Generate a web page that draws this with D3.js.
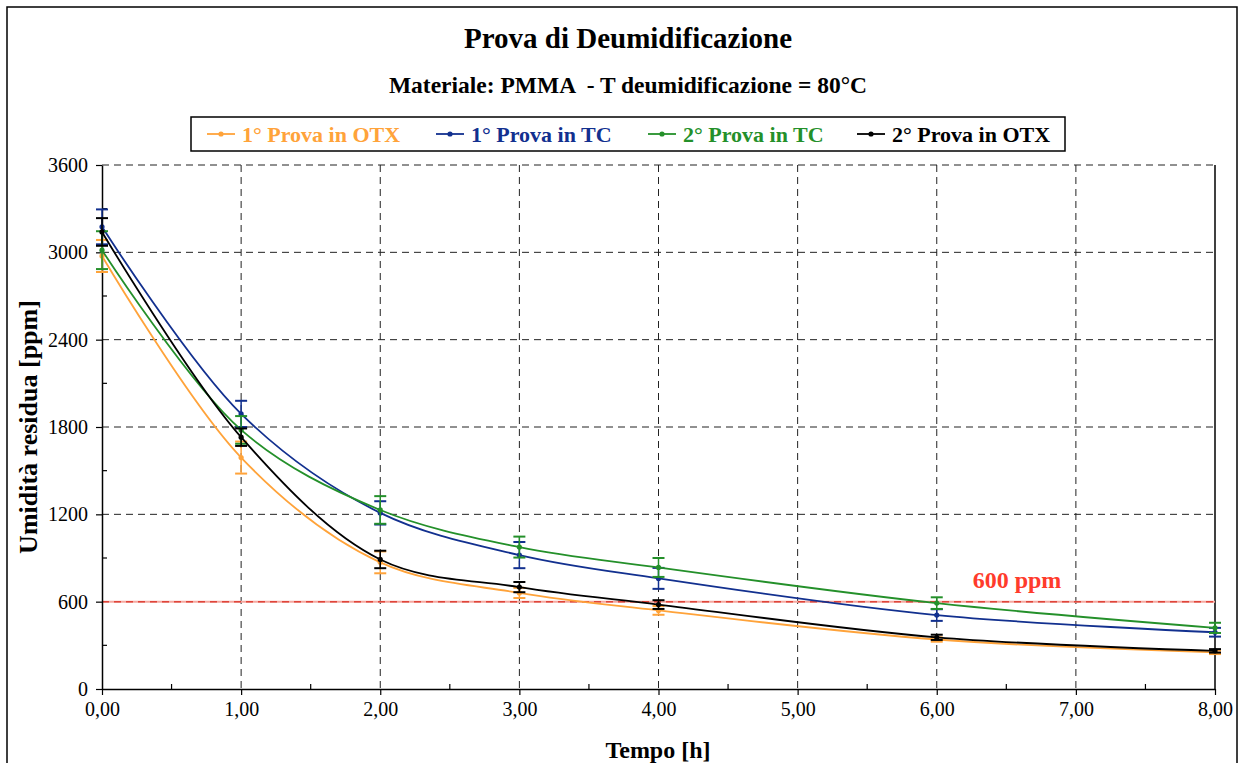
<!DOCTYPE html>
<html>
<head>
<meta charset="utf-8">
<script src="https://cdn.jsdelivr.net/npm/d3@7"></script>
<style>
  html, body { margin: 0; padding: 0; background: #fff; }
  svg { display: block; font-family: "Liberation Serif", "Times New Roman", serif; }
  svg text { font-family: "Liberation Serif", "Times New Roman", serif; }
</style>
</head>
<body>
<svg id="chart" width="1245" height="763"></svg>
<script>
// Drying time [h]
const hours = [0, 1, 2, 3, 4, 6, 8];

// Residual moisture [ppm] and error bar half-widths for each run
const otx1 = [2975, 1590, 870, 660, 540, 340, 252];
const otx1Err = [110, 110, 75, 35, 30, 15, 12];
const tc1 = [3175, 1890, 1210, 920, 760, 508, 390];
const tc1Err = [120, 90, 80, 90, 72, 40, 30];
const tc2 = [3015, 1780, 1230, 975, 835, 590, 420];
const tc2Err = [130, 95, 95, 72, 65, 40, 35];
const otx2 = [3140, 1730, 890, 700, 580, 355, 262];
const otx2Err = [95, 60, 60, 35, 30, 18, 12];

const seriesNames = ["1° Prova in OTX", "1° Prova in TC", "2° Prova in TC", "2° Prova in OTX"];
const seriesColors = ["#ffa33a", "#12308f", "#24902a", "#000000"];

const xTicks = [0, 1, 2, 3, 4, 5, 6, 7, 8];
const yTicks = [0, 600, 1200, 1800, 2400, 3000, 3600];
const threshold = 600;

const series = [
  { name: seriesNames[0], color: seriesColors[0], values: otx1, errs: otx1Err },
  { name: seriesNames[1], color: seriesColors[1], values: tc1, errs: tc1Err },
  { name: seriesNames[2], color: seriesColors[2], values: tc2, errs: tc2Err },
  { name: seriesNames[3], color: seriesColors[3], values: otx2, errs: otx2Err }
];

const svg = d3.select("#chart");
const serif = "Liberation Serif, Times New Roman, serif";

// Outer chart frame
svg.append("rect")
  .attr("x", 7).attr("y", 7).attr("width", 1230).attr("height", 770)
  .attr("fill", "#fff").attr("stroke", "#000").attr("stroke-width", 1.5);

// Titles
svg.append("text").attr("x", 628).attr("y", 48)
  .attr("text-anchor", "middle").attr("font-size", 29).attr("font-weight", "bold")
  .text("Prova di Deumidificazione");
svg.append("text").attr("x", 628).attr("y", 93)
  .attr("text-anchor", "middle").attr("font-size", 23.5).attr("font-weight", "bold")
  .attr("xml:space", "preserve")
  .text("Materiale: PMMA  - T deumidificazione = 80°C");

// Plot area
const plotLeft = 102, plotRight = 1215, plotTop = 165, plotBottom = 689;
const x = d3.scaleLinear().domain([0, 8]).range([plotLeft, plotRight]);
const y = d3.scaleLinear().domain([0, 3600]).range([plotBottom, plotTop]);

// Dashed grid
const grid = svg.append("g");
grid.selectAll("line.v").data(xTicks.filter(d => d > 0 && d < 8)).join("line")
  .attr("x1", d => x(d)).attr("x2", d => x(d))
  .attr("y1", plotTop).attr("y2", plotBottom)
  .attr("stroke", "#222").attr("stroke-width", 1).attr("stroke-dasharray", "7,5");
grid.selectAll("line.h").data(yTicks.filter(d => d > 0)).join("line")
  .attr("x1", plotLeft).attr("x2", plotRight)
  .attr("y1", d => y(d)).attr("y2", d => y(d))
  .attr("stroke", "#222").attr("stroke-width", 1).attr("stroke-dasharray", "7,5");

// Right edge of plot area
svg.append("line").attr("x1", plotRight).attr("x2", plotRight).attr("y1", plotTop).attr("y2", plotBottom)
  .attr("stroke", "#000").attr("stroke-width", 1.5);

// 600 ppm threshold
svg.append("line").attr("x1", plotLeft).attr("x2", plotRight)
  .attr("y1", y(threshold)).attr("y2", y(threshold))
  .attr("stroke", "#f6a8a0").attr("stroke-width", 2);
svg.append("line").attr("x1", plotLeft).attr("x2", plotRight)
  .attr("y1", y(threshold)).attr("y2", y(threshold))
  .attr("stroke", "#e0453a").attr("stroke-width", 1.5).attr("stroke-dasharray", "7,5");
svg.append("text").attr("x", 1017).attr("y", 588)
  .attr("text-anchor", "middle").attr("font-size", 24).attr("font-weight", "bold")
  .attr("fill", "#ff3b2b").text(threshold + " ppm");

// Axes
const fmtX = d => d.toFixed(2).replace(".", ",");
const xAxis = d3.axisBottom(x).tickValues(xTicks).tickFormat(fmtX).tickSizeInner(6).tickSizeOuter(0).tickPadding(4);
const gx = svg.append("g").attr("transform", `translate(0,${plotBottom})`).call(xAxis);
const yAxis = d3.axisLeft(y).tickValues(yTicks).tickFormat(d3.format("d")).tickSizeInner(6).tickSizeOuter(0).tickPadding(8);
const gy = svg.append("g").attr("transform", `translate(${plotLeft},0)`).call(yAxis);
[gx, gy].forEach(g => {
  g.attr("font-family", serif).attr("font-size", 20);
  g.select(".domain").attr("stroke", "#000").attr("stroke-width", 1.5);
  g.selectAll(".tick line").attr("stroke", "#000").attr("stroke-width", 1.2);
  g.selectAll("text").attr("font-family", serif).attr("font-size", 20).attr("fill", "#000");
});
gx.selectAll("text").attr("dy", "0.85em");

// Minor ticks pointing into the plot
const minorX = d3.range(0.5, 8, 1);
svg.append("g").selectAll("line").data(minorX).join("line")
  .attr("x1", d => x(d)).attr("x2", d => x(d))
  .attr("y1", plotBottom).attr("y2", plotBottom - 5)
  .attr("stroke", "#000").attr("stroke-width", 1.2);
const minorY = d3.range(300, 3600, 600);
svg.append("g").selectAll("line").data(minorY).join("line")
  .attr("x1", plotLeft).attr("x2", plotLeft + 5)
  .attr("y1", d => y(d)).attr("y2", d => y(d))
  .attr("stroke", "#000").attr("stroke-width", 1.2);

// Axis titles
svg.append("text").attr("x", 658).attr("y", 758)
  .attr("text-anchor", "middle").attr("font-size", 24).attr("font-weight", "bold")
  .text("Tempo [h]");
svg.append("text").attr("transform", `translate(37,${(plotTop + plotBottom) / 2}) rotate(-90)`)
  .attr("text-anchor", "middle").attr("font-size", 26).attr("font-weight", "bold")
  .text("Umidità residua [ppm]");

// Smoothed series lines, error bars and markers
const line = d3.line()
  .x((d, i) => x(hours[i]))
  .y(d => y(d))
  .curve(d3.curveCatmullRom.alpha(0.5));

series.forEach(s => {
  const g = svg.append("g");
  g.append("path").datum(s.values).attr("d", line)
    .attr("fill", "none").attr("stroke", s.color).attr("stroke-width", 1.8);
  const pts = s.values.map((v, i) => ({ h: hours[i], v, e: s.errs[i] }));
  g.selectAll("line.err").data(pts).join("line")
    .attr("x1", d => x(d.h)).attr("x2", d => x(d.h))
    .attr("y1", d => y(d.v + d.e)).attr("y2", d => y(d.v - d.e))
    .attr("stroke", s.color).attr("stroke-width", 1.5);
  [1, -1].forEach(sign => {
    g.selectAll(null).data(pts).join("line")
      .attr("x1", d => x(d.h) - 6).attr("x2", d => x(d.h) + 6)
      .attr("y1", d => y(d.v + sign * d.e)).attr("y2", d => y(d.v + sign * d.e))
      .attr("stroke", s.color).attr("stroke-width", 2);
  });
  g.selectAll("circle").data(pts).join("circle")
    .attr("cx", d => x(d.h)).attr("cy", d => y(d.v)).attr("r", 2.6)
    .attr("fill", s.color);
});

// Legend
const legend = svg.append("g");
legend.append("rect").attr("x", 191).attr("y", 117).attr("width", 874).attr("height", 34)
  .attr("fill", "#fff").attr("stroke", "#000").attr("stroke-width", 1.5);
const legendX = [207, 436, 648, 857];
series.forEach((s, i) => {
  const lx = legendX[i];
  legend.append("line").attr("x1", lx).attr("x2", lx + 28).attr("y1", 134).attr("y2", 134)
    .attr("stroke", s.color).attr("stroke-width", 1.8);
  legend.append("circle").attr("cx", lx + 14).attr("cy", 134).attr("r", 2.6).attr("fill", s.color);
  legend.append("text").attr("x", lx + 35).attr("y", 142)
    .attr("font-size", 22).attr("font-weight", "bold").attr("fill", s.color)
    .text(s.name);
});
</script>
</body>
</html>
